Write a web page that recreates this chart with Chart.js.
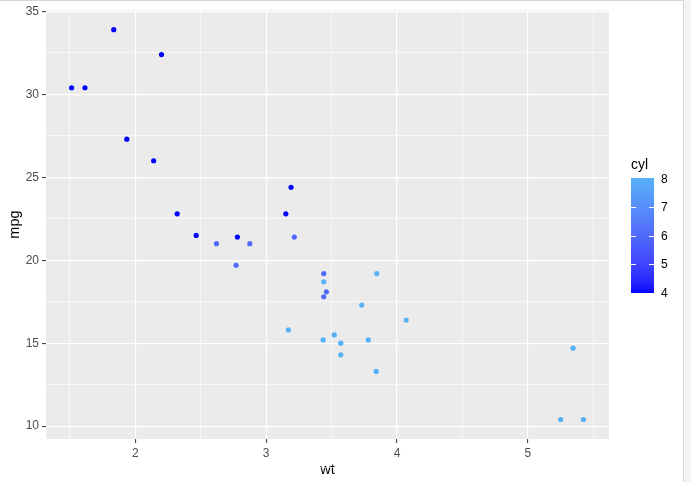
<!DOCTYPE html>
<html>
<head>
<meta charset="utf-8">
<script src="https://cdn.jsdelivr.net/npm/chart.js@4"></script>
<style>
  html, body { margin: 0; padding: 0; background: #fff; }
</style>
</head>
<body>
<canvas id="chart" width="691" height="482"></canvas>
<script>
// mtcars: weight (1000 lbs), miles per gallon, cylinders
const wt = [2.620, 2.875, 2.320, 3.215, 3.440, 3.460, 3.570, 3.190, 3.150, 3.440, 3.440,
  4.070, 3.730, 3.780, 5.250, 5.424, 5.345, 2.200, 1.615, 1.835, 2.465, 3.520, 3.435,
  3.840, 3.845, 1.935, 2.140, 1.513, 3.170, 2.770, 3.570, 2.780];
const mpg = [21.0, 21.0, 22.8, 21.4, 18.7, 18.1, 14.3, 24.4, 22.8, 19.2, 17.8,
  16.4, 17.3, 15.2, 10.4, 10.4, 14.7, 32.4, 30.4, 33.9, 21.5, 15.5, 15.2,
  13.3, 19.2, 27.3, 26.0, 30.4, 15.8, 19.7, 15.0, 21.4];
const cyl = [6, 6, 4, 6, 8, 6, 8, 4, 4, 6, 6,
  8, 8, 8, 8, 8, 8, 4, 4, 4, 4, 8, 8,
  8, 8, 4, 4, 4, 8, 6, 8, 4];

const xTicks = [2, 3, 4, 5];
const yTicks = [10, 15, 20, 25, 30, 35];
const cylTicks = [4, 5, 6, 7, 8];
const lowColor = "#0000FF";
const highColor = "#56B1F7";

// colour gradient in Lab space, like ggplot's scale_colour_gradient
const toLin = (c) => { c /= 255; return c <= 0.04045 ? c / 12.92 : Math.pow((c + 0.055) / 1.055, 2.4); };
const fromLin = (c) => { c = c <= 0.0031308 ? 12.92 * c : 1.055 * Math.pow(c, 1 / 2.4) - 0.055; return Math.max(0, Math.min(255, Math.round(c * 255))); };
const hexToLab = (hex) => {
  const r = toLin(parseInt(hex.slice(1, 3), 16));
  const g = toLin(parseInt(hex.slice(3, 5), 16));
  const b = toLin(parseInt(hex.slice(5, 7), 16));
  const X = (r * 0.4124 + g * 0.3576 + b * 0.1805) / 0.95047;
  const Y = r * 0.2126 + g * 0.7152 + b * 0.0722;
  const Z = (r * 0.0193 + g * 0.1192 + b * 0.9505) / 1.08883;
  const f = (t) => (t > 0.008856 ? Math.cbrt(t) : 7.787 * t + 16 / 116);
  const fx = f(X), fy = f(Y), fz = f(Z);
  return [116 * fy - 16, 500 * (fx - fy), 200 * (fy - fz)];
};
const labToRgb = ([L, a, b]) => {
  const fy = (L + 16) / 116, fx = fy + a / 500, fz = fy - b / 200;
  const fi = (t) => (t > 0.206893 ? t * t * t : (t - 16 / 116) / 7.787);
  const X = fi(fx) * 0.95047, Y = fi(fy), Z = fi(fz) * 1.08883;
  const r = X * 3.2406 + Y * -1.5372 + Z * -0.4986;
  const g = X * -0.9689 + Y * 1.8758 + Z * 0.0415;
  const bb = X * 0.0557 + Y * -0.2040 + Z * 1.0570;
  return `rgb(${fromLin(r)},${fromLin(g)},${fromLin(bb)})`;
};
const labLow = hexToLab(lowColor), labHigh = hexToLab(highColor);
const cylMin = Math.min(...cyl), cylMax = Math.max(...cyl);
const colourFor = (v) => {
  const t = (v - cylMin) / (cylMax - cylMin);
  return labToRgb(labLow.map((l, i) => l + (labHigh[i] - l) * t));
};

const pad = (arr, k) => (Math.max(...arr) - Math.min(...arr)) * k;
const withMinor = (ticks) => {
  const step = ticks[1] - ticks[0];
  const out = [ticks[0] - step / 2];
  ticks.forEach((t) => out.push(t, t + step / 2));
  return out;
};

const panelBackground = {
  id: "panelBackground",
  beforeDraw(chart) {
    const { ctx, chartArea: a } = chart;
    ctx.save();
    ctx.fillStyle = "#EBEBEB";
    ctx.fillRect(a.left, a.top, a.right - a.left, a.bottom - a.top);
    ctx.restore();
  },
};

const colourBar = {
  id: "colourBar",
  afterDraw(chart) {
    const { ctx } = chart;
    const left = 631, width = 23, top = 178, bottom = 293;
    const yFor = (v) => 292.5 - ((v - cylMin) / (cylMax - cylMin)) * 114;
    ctx.save();
    ctx.fillStyle = "#000";
    ctx.font = "14px 'Liberation Sans', Arial, sans-serif";
    ctx.textBaseline = "middle";
    ctx.textAlign = "left";
    ctx.fillText("cyl", 631, 165);

    const grad = ctx.createLinearGradient(0, bottom, 0, top);
    for (let i = 0; i <= 20; i++) {
      grad.addColorStop(i / 20, colourFor(cylMin + ((cylMax - cylMin) * i) / 20));
    }
    ctx.fillStyle = grad;
    ctx.fillRect(left, top, width, bottom - top);

    ctx.strokeStyle = "#fff";
    ctx.lineWidth = 1;
    ctx.font = "12px 'Liberation Sans', Arial, sans-serif";
    ctx.fillStyle = "#000";
    cylTicks.forEach((v) => {
      const y = Math.round(yFor(v)) + 0.5;
      if (v !== cylMin && v !== cylMax) {
        ctx.beginPath();
        ctx.moveTo(left, y); ctx.lineTo(left + 5, y);
        ctx.moveTo(left + width - 5, y); ctx.lineTo(left + width, y);
        ctx.stroke();
      }
      ctx.fillText(String(v), 661, yFor(v) + 1);
    });

    // viewer frame
    ctx.fillStyle = "#F2F3F5";
    ctx.fillRect(684, 0, 7, 482);
    ctx.fillStyle = "#D6D6D6";
    ctx.fillRect(0, 0, 684, 1);
    ctx.fillRect(683, 0, 1, 482);
    ctx.restore();
  },
};

const tickFont = { family: "'Liberation Sans', Arial, sans-serif", size: 12 };
const titleFont = { family: "'Liberation Sans', Arial, sans-serif", size: 14.5 };

new Chart(document.getElementById("chart"), {
  type: "scatter",
  data: {
    datasets: [{
      data: wt.map((x, i) => ({ x, y: mpg[i] })),
      backgroundColor: cyl.map(colourFor),
      borderWidth: 0,
      pointRadius: 2.6,
      pointHoverRadius: 2.6,
    }],
  },
  options: {
    responsive: false,
    animation: false,
    layout: { padding: { top: 9, right: 82, left: 0, bottom: 0 } },
    plugins: { legend: { display: false }, tooltip: { enabled: false } },
    scales: {
      x: {
        type: "linear",
        min: Math.min(...wt) - pad(wt, 0.05),
        max: Math.max(...wt) + pad(wt, 0.05),
        afterBuildTicks: (s) => { s.ticks = withMinor(xTicks).map((value) => ({ value })); },
        afterFit: (s) => { s.height = 43; },
        border: { display: false },
        grid: {
          color: "#fff",
          lineWidth: (c) => (xTicks.includes(c.tick.value) ? 1.2 : 0.6),
          tickLength: 4,
          tickWidth: 1,
          tickColor: (c) => (xTicks.includes(c.tick.value) ? "#333333" : "rgba(0,0,0,0)"),
        },
        ticks: {
          autoSkip: false, maxRotation: 0, padding: 3, color: "#4D4D4D", font: tickFont,
          callback: (v) => (xTicks.includes(v) ? String(v) : ""),
        },
        title: { display: true, text: "wt", color: "#000", font: titleFont, padding: { top: 0, bottom: 3 } },
      },
      y: {
        type: "linear",
        min: Math.min(...mpg) - pad(mpg, 0.05),
        max: Math.max(...mpg) + pad(mpg, 0.05),
        afterBuildTicks: (s) => { s.ticks = withMinor(yTicks).filter((v) => v < 35.1).map((value) => ({ value })); },
        afterFit: (s) => { s.width = 46; },
        border: { display: false },
        grid: {
          color: "#fff",
          lineWidth: (c) => (yTicks.includes(c.tick.value) ? 1.2 : 0.6),
          tickLength: 4,
          tickWidth: 1,
          tickColor: (c) => (yTicks.includes(c.tick.value) ? "#333333" : "rgba(0,0,0,0)"),
        },
        ticks: {
          autoSkip: false, padding: 3, color: "#4D4D4D", font: tickFont,
          callback: (v) => (yTicks.includes(v) ? String(v) : ""),
        },
        title: { display: true, text: "mpg", color: "#000", font: titleFont, padding: { top: 6, bottom: 0 } },
      },
    },
  },
  plugins: [panelBackground, colourBar],
});
</script>
</body>
</html>
